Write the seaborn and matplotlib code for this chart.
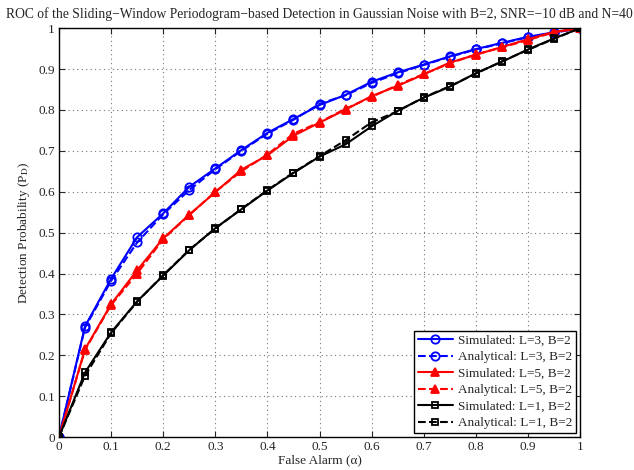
import matplotlib
matplotlib.use('Agg')
import matplotlib.pyplot as plt
import seaborn as sns
import numpy as np

# false alarm grid
pfa = [0, 0.05, 0.1, 0.15, 0.2, 0.25, 0.3, 0.35, 0.4, 0.45, 0.5,
       0.55, 0.6, 0.65, 0.7, 0.75, 0.8, 0.85, 0.9, 0.95, 1.0]

# L=3
sim_l3 = [0, 0.271, 0.387, 0.489, 0.547, 0.612, 0.657, 0.702, 0.744, 0.778, 0.812,
          0.837, 0.869, 0.892, 0.911, 0.931, 0.949, 0.964, 0.979, 0.990, 1.0]
ana_l3 = [0, 0.268, 0.382, 0.476, 0.545, 0.604, 0.655, 0.700, 0.742, 0.776, 0.815,
          0.836, 0.866, 0.890, 0.910, 0.930, 0.948, 0.963, 0.978, 0.989, 1.0]
# L=5
sim_l5 = [0, 0.215, 0.325, 0.408, 0.486, 0.544, 0.599, 0.654, 0.689, 0.737, 0.769,
          0.801, 0.834, 0.859, 0.887, 0.916, 0.935, 0.954, 0.973, 0.991, 1.0]
ana_l5 = [0, 0.213, 0.323, 0.400, 0.484, 0.543, 0.600, 0.650, 0.691, 0.742, 0.770,
          0.803, 0.832, 0.861, 0.888, 0.914, 0.936, 0.953, 0.971, 0.990, 1.0]
# L=1
sim_l1 = [0, 0.158, 0.256, 0.332, 0.395, 0.457, 0.511, 0.557, 0.603, 0.646, 0.686,
          0.716, 0.760, 0.798, 0.830, 0.857, 0.890, 0.918, 0.948, 0.975, 1.0]
ana_l1 = [0, 0.150, 0.254, 0.331, 0.396, 0.458, 0.510, 0.558, 0.604, 0.647, 0.687,
          0.726, 0.770, 0.797, 0.831, 0.858, 0.889, 0.919, 0.947, 0.974, 1.0]

ticks = [0, 0.1, 0.2, 0.3, 0.4, 0.5, 0.6, 0.7, 0.8, 0.9, 1]
tick_labels = ['0', '0.1', '0.2', '0.3', '0.4', '0.5', '0.6', '0.7', '0.8', '0.9', '1']

sns.set_style('white')
plt.rcParams['font.family'] = ['Liberation Serif', 'DejaVu Serif']
plt.rcParams['mathtext.fontset'] = 'stix'

fig = plt.figure(figsize=(6.34, 4.70), dpi=100)
ax = fig.add_axes([0.093, 0.070, 0.822, 0.870])

series = [
    (sim_l3, 'Simulated: L=3, B=2', 'blue', 'o', '-', 'none'),
    (ana_l3, 'Analytical: L=3, B=2', 'blue', 'o', '--', 'none'),
    (sim_l5, 'Simulated: L=5, B=2', 'red', '^', '-', 'red'),
    (ana_l5, 'Analytical: L=5, B=2', 'red', '^', '--', 'red'),
    (sim_l1, 'Simulated: L=1, B=2', 'black', 's', '-', 'none'),
    (ana_l1, 'Analytical: L=1, B=2', 'black', 's', '--', 'none'),
]
for y, lab, col, mk, ls, mfc in series:
    sns.lineplot(x=pfa, y=y, ax=ax, color=col, marker=mk, linestyle=ls,
                 linewidth=1.5, markersize=6 if mk != 's' else 5,
                 markerfacecolor=mfc, markeredgecolor=col, markeredgewidth=1.3,
                 label=lab)

ax.set_xlim(0, 1)
ax.set_ylim(0, 1)
ax.set_xticks(ticks)
ax.set_xticklabels(tick_labels)
ax.set_yticks(ticks)
ax.set_yticklabels(tick_labels)
ax.tick_params(direction='in', length=4, labelsize=9.5, top=True, right=True,
               bottom=True, left=True, pad=3)
ax.grid(True, linestyle=(0, (1, 3)), color='#777777', linewidth=0.8)
for sp in ax.spines.values():
    sp.set_color('black')
    sp.set_linewidth(1.0)

ax.set_title('ROC of the Sliding\u2212Window Periodogram\u2212based Detection in Gaussian Noise '
             'with B=2, SNR=\u221210 dB and N=40', fontsize=9.8, pad=7)
ax.set_xlabel('False Alarm (\u03b1)', fontsize=9.5, labelpad=1)
ax.set_ylabel(r'Detection Probability (P$_{\mathrm{D}}$)', fontsize=9.5, labelpad=4)

leg = ax.legend(loc='lower right', fontsize=9.5, frameon=True, fancybox=False,
                edgecolor='black', framealpha=1, borderpad=0.3, labelspacing=0.32,
                handlelength=2.6, handletextpad=0.4, borderaxespad=0.3)
leg.get_frame().set_linewidth(1.0)

plt.savefig('out.png', dpi=100)
plt.close()
